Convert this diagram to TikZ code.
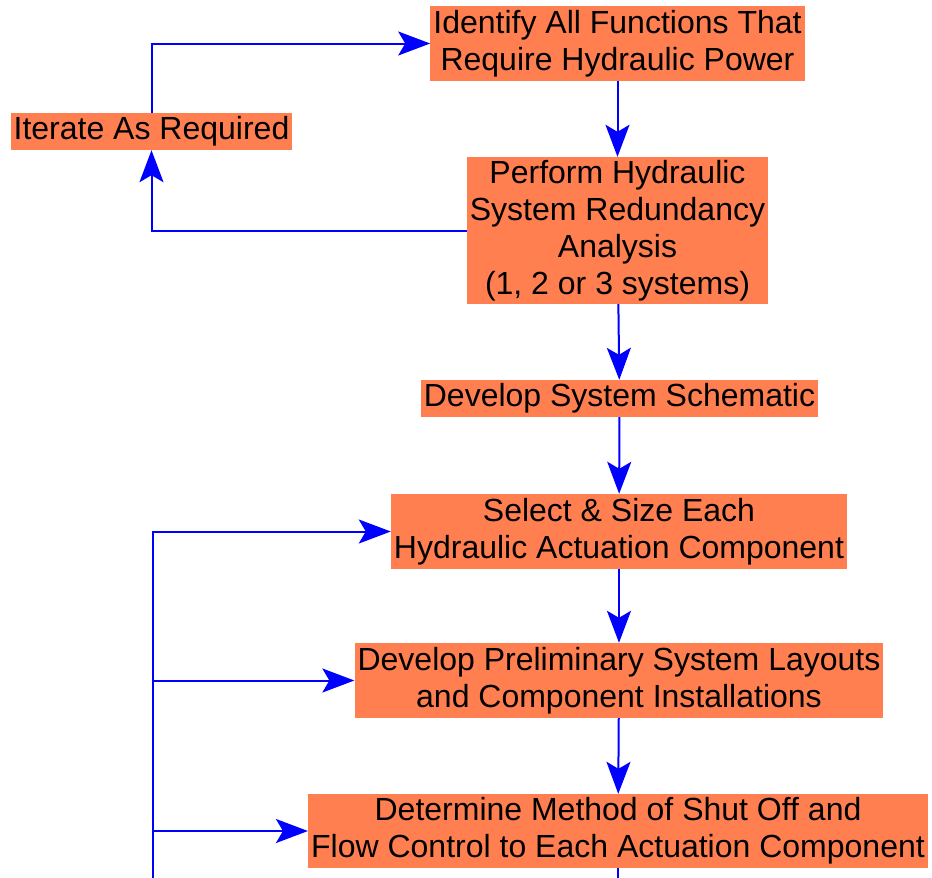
\documentclass[tikz,border=0pt]{standalone}
\usepackage{fontspec}
\setmainfont{Liberation Sans}
\usetikzlibrary{arrows.meta}
\definecolor{boxorange}{RGB}{255,127,80}
\begin{document}
\begin{tikzpicture}[x=1pt,y=-1pt,
  stepbox/.style={fill=boxorange,align=center,inner xsep=3pt,inner ysep=0pt,
    font=\fontsize{32}{37}\selectfont},
  link/.style={draw=blue,line width=2pt,-{Stealth[length=32pt,width=24pt,inset=7pt]}},
  plain/.style={draw=blue,line width=2pt}]
  \useasboundingbox (0,0) rectangle (932,878);

  % main column
  \node[stepbox,minimum height=75pt] (identify) at (617.5,43.5) {Identify All Functions That\\Require Hydraulic Power};
  \node[stepbox,minimum height=147pt] (redund) at (617.5,230.5) {Perform Hydraulic\\System Redundancy\\Analysis\\(1, 2 or 3 systems)};
  \node[stepbox,minimum height=37pt] (schem) at (619.5,398.5) {Develop System Schematic};
  \node[stepbox,minimum height=75pt] (select) at (619,531.5) {Select \& Size Each\\Hydraulic Actuation Component};
  \node[stepbox,minimum height=75pt] (layout) at (619,680.5) {Develop Preliminary System Layouts\\and Component Installations};
  \node[stepbox,minimum height=74pt] (shutoff) at (618,831) {Determine Method of Shut Off and\\Flow Control to Each Actuation Component};

  % iteration loop
  \node[stepbox,minimum height=37pt] (iterate) at (151.5,131.5) {Iterate As Required};

  \draw[link] (identify) -- (redund);
  \draw[link] (redund) -- (schem);
  \draw[link] (schem) -- (select);
  \draw[link] (select) -- (layout);
  \draw[link] (layout) -- (shutoff);
  \coordinate (down) at (618,878);
  \draw[plain] (shutoff) -- (down);

  \draw[link] (redund.west) -| (iterate.south);
  \draw[link] (iterate.north) |- (identify.west);

  % feedback bus on the left
  \coordinate (bus) at (153,878);
  \draw[link] (bus) |- (select.west);
  \draw[link] (bus |- layout.west) -- (layout.west);
  \draw[link] (bus |- shutoff.west) -- (shutoff.west);
\end{tikzpicture}
\end{document}
